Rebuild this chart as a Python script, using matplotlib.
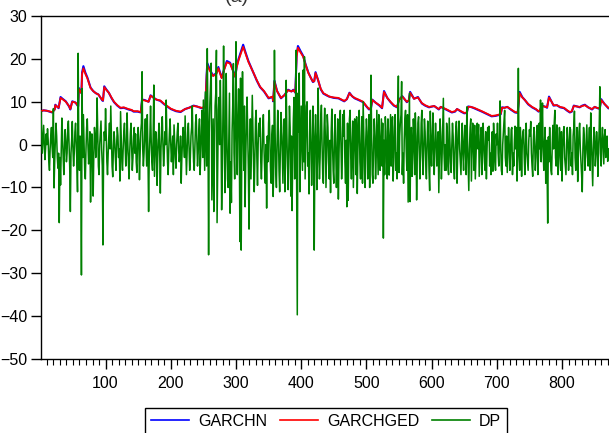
import matplotlib
matplotlib.use("Agg")
import matplotlib.pyplot as plt
from matplotlib.ticker import MultipleLocator

# ---------------- data ----------------
dp_b01 = [7.7,3.0,-2.0,1.0,4.5,0.5,-3.5,-1.0,2.5,0.0, 3.7,1.0,-4.0,-6.0,-1.0,2.0,4.0,-0.5,-3.0,8.4,
          -10.1,-4.0,1.0,5.0,2.0,-3.0,-5.5,-2.0,-18.2,-3.0, -9.4,-1.0,6.2,2.0,-3.0,-7.0,-1.0,3.5,1.0,-4.0,
          -2.0,4.0,5.5,0.0,-5.0,-15.6,-2.0,1.0,5.4,-1.0]
dp_b02 = [-5.0,-2.0,3.0,5.0,0.5,-4.0,-11.0,21.3,-2.0,-6.0, 2.0,-1.0,-30.4,13.1,-3.0,7.0,1.0,-6.0,-8.0,-1.0,
          4.0,6.0,0.0,-4.5,-2.0,3.0,-13.4,-3.0,2.5,-4.0, -12.0,-2.0,4.0,2.0,-3.0,1.0,10.9,3.0,-5.0,-7.0,
          0.0,3.0,5.5,-1.0,-5.0,-23.4,-2.0,3.0,1.0,8.4]
dp_b03 = [2.0,-4.0,-7.0,-2.0,2.0,5.0,-1.0,9.0,2.0,-5.0, -7.5,-1.0,3.0,1.0,-3.0,-6.0,0.0,4.0,2.0,-3.0,
          -1.0,-8.5,7.7,2.0,-4.0,-6.0,-1.0,3.0,5.0,0.0, -5.0,-2.0,7.4,1.0,-4.0,-8.0,-2.0,2.5,5.0,-1.0,
          -6.0,-3.0,2.0,4.0,-2.0,2.5,-4.0,-6.5,0.0,4.0]
dp_b04 = [1.0,-8.2,-2.0,3.0,5.0,17.0,-1.0,-5.0,-2.0,3.0, 6.0,0.0,-5.0,7.0,-2.0,-15.6,-3.0,2.0,9.0,1.0,
          -4.0,-6.0,2.0,13.9,-7.4,-2.0,3.0,1.0,-9.5,-3.0, 2.0,5.0,-2.0,-11.3,-1.0,4.0,6.5,0.0,-5.0,-2.0,
          3.0,0.0,10.4,2.0,-4.0,-7.0,-1.0,3.0,6.0,0.0]
dp_b05 = [-4.0,-1.0,2.0,-7.0,4.6,1.0,-3.0,-5.5,0.0,3.0, 5.0,-1.0,-4.0,-2.0,2.0,-9.0,-3.0,1.0,4.0,0.0,
          -3.0,6.7,0.0,-7.0,-2.0,3.0,5.0,-1.0,-6.0,-3.0, 2.0,4.0,9.0,1.0,-4.0,-6.0,0.0,5.0,7.0,1.0,
          -5.0,-2.0,3.0,6.0,-7.0,-2.0,4.0,8.0,-3.0,10.4]
dp_b06 = [2.0,-6.0,12.3,4.0,-5.0,22.4,5.0,-25.7,3.0,10.0, 14.0,19.0,-12.9,-3.0,6.0,-15.6,-2.0,9.0,12.0,22.0,
          -18.2,-4.0,8.0,11.0,0.0,15.0,5.0,-15.2,-6.0,7.0, 23.0,4.0,-11.2,-2.0,16.6,3.0,-8.0,-10.0,2.0,12.0,
          -16.0,-4.0,-13.5,3.0,9.0,18.9,-2.0,-8.0,5.0,24.0]
dp_b07 = [2.0,-7.0,6.0,13.0,3.0,-22.6,15.5,-24.6,1.0,17.0, 4.0,-6.0,9.0,-14.5,-3.0,5.0,11.1,2.0,-6.0,-19.7,
          -2.0,6.0,-8.0,1.0,11.5,3.0,-5.0,-11.0,-2.0,6.0, 8.0,-3.0,-9.5,0.0,5.0,2.0,6.2,-4.0,-8.0,-2.0,
          4.0,7.0,-1.0,-6.0,-9.0,0.0,-14.8,2.0,-4.0,5.0]
dp_b08 = [8.0,1.0,-6.0,-9.0,2.0,4.5,-12.1,-5.0,22.0,3.0, -6.0,-10.0,0.0,8.0,3.0,-6.0,-11.0,-2.0,7.5,4.0,
          -3.0,-9.0,2.0,6.0,-11.0,-2.0,15.0,3.0,-5.0,-10.5, 0.0,9.0,4.0,-12.0,2.0,-15.4,-3.0,6.0,11.0,-8.0,
          1.0,22.0,-8.0,-39.7,12.0,3.0,16.7,-11.0,-2.0,9.0]
dp_b09 = [2.0,-6.0,17.4,-4.0,20.5,-8.0,0.0,9.0,10.0,-5.0, -2.0,-11.5,3.0,8.0,0.0,-9.5,-3.0,9.0,2.0,-24.6,
          -1.0,7.0,2.0,-10.5,-4.0,13.2,1.0,-8.0,-3.0,6.0, 9.2,0.0,-7.0,-9.0,3.0,8.5,2.0,-10.0,-2.0,7.0,
          4.0,-4.0,-8.0,1.0,-11.2,3.0,8.3,0.0,-6.0,-9.0]
dp_b10 = [2.0,7.0,-1.0,-10.0,-3.0,6.0,-12.7,-2.0,5.0,8.0, 0.0,-8.0,-3.0,7.0,2.0,8.0,-4.0,-9.0,1.0,-14.5,
          5.0,-13.0,-1.0,6.0,8.0,-3.0,-8.0,0.0,5.5,-10.0, -2.0,6.0,3.0,-7.0,6.5,-11.4,-1.0,5.0,8.0,-4.0,
          -8.0,0.0,6.5,-9.0,10.0,2.0,-5.0,-10.0,1.0,6.0]
dp_b11 = [3.0,-8.0,-2.0,7.0,-10.0,1.0,16.2,2.0,-7.0,-9.0, 0.0,6.0,2.0,-8.0,-3.0,8.0,1.0,-7.0,7.0,1.8,
          -6.0,0.0,6.0,-5.0,5.0,-21.8,1.0,-7.0,6.5,3.0, -4.0,-8.0,6.0,2.0,-7.1,0.0,7.0,-5.0,2.0,6.5,
          -8.5,-3.0,4.0,7.0,-6.0,-2.0,-8.0,6.0,16.0,-6.5]
dp_b12 = [2.0,5.0,7.0,14.7,-7.0,-2.0,-9.0,1.0,6.0,8.0, -1.0,-6.0,7.0,-13.4,0.0,12.0,-13.3,1.0,4.0,-7.4,
          -2.0,6.0,2.0,-7.0,7.4,2.0,-12.9,-3.0,5.0,6.5, -1.0,-8.0,-3.0,5.0,8.0,-2.0,-7.0,0.0,6.0,3.0,
          -4.0,-8.0,0.0,5.5,2.0,-6.0,-10.7,7.8,-1.0,-5.0]
dp_b13 = [2.0,7.4,-2.0,-7.0,0.0,5.0,1.0,-5.0,-3.0,3.0, -11.2,-2.0,6.0,2.0,-8.0,-3.0,4.0,10.8,-2.0,-6.0,
          0.0,-6.0,5.0,3.0,-5.0,-7.0,6.2,1.0,-4.0,-6.5, 0.0,5.0,2.0,-5.5,-8.0,-1.0,3.0,5.4,-9.0,-2.0,
          3.0,5.5,-1.0,-4.0,-7.0,0.0,5.0,-2.0,-6.0,1.0]
dp_b14 = [4.5,-2.0,-7.0,8.8,1.0,-5.0,-10.7,-1.0,4.0,6.0, -8.5,-2.0,5.0,1.0,-6.0,4.5,-8.0,-3.0,2.0,5.0,
          -1.0,4.7,-7.4,-3.0,2.0,4.0,-7.0,-2.0,5.0,1.0, -4.0,-6.0,3.0,-8.0,-1.0,4.0,1.0,4.3,-5.0,-2.0,
          -7.0,0.0,3.0,-6.2,5.0,1.0,-4.0,-6.0,2.5,0.0]
dp_b15 = [5.0,-2.0,-5.0,1.0,10.2,-1.0,-6.0,-7.0,0.0,3.0, 5.5,8.0,-3.0,-5.0,2.0,-6.5,-1.0,4.0,0.0,-6.0,
          -2.0,3.5,4.0,-7.0,-2.0,-5.0,1.0,4.3,-1.0,4.0, -8.5,-1.0,17.8,-2.0,-6.0,4.0,1.0,-7.4,0.0,3.0,
          3.5,-3.0,-7.0,0.0,5.0,-2.0,-4.0,-6.0,1.0,3.5]
dp_b16 = [2.0,5.4,-2.0,-5.0,-7.4,1.0,4.0,0.0,-6.0,-3.0, 3.0,4.5,-7.0,-2.0,5.0,-1.0,10.4,-4.0,2.0,9.7,
          -1.0,-6.0,0.0,4.0,-9.0,1.0,-5.0,-18.3,1.8,-4.0, 4.0,-2.0,-6.0,-7.0,0.0,4.5,-1.0,5.0,8.0,-3.0,
          -5.0,4.6,2.0,-7.0,-3.0,4.0,0.0,-6.0,3.0,-8.5]
dp_b17 = [-1.0,3.0,4.2,-3.0,-5.0,-7.0,0.0,4.0,1.0,-6.0, -2.0,4.0,3.5,-5.0,-2.0,-7.0,2.0,4.0,7.8,-3.0,
          -6.0,0.0,4.0,-8.6,-2.0,3.0,5.0,-1.0,-4.0,-7.0, -11.0,-1.0,4.0,2.0,-6.0,-3.0,1.0,4.6,-2.0,-5.0,
          0.0,4.0,-6.0,7.4,1.0,-4.0,-9.6,-1.0,4.0,2.0]
dp_b18 = [-5.0,-2.0,3.0,0.0,-7.4,-1.0,4.0,13.5,-2.0,-5.0,1.0,4.0,0.0,-4.5,2.0,3.5,-3.0,-1.0,2.0,-3.9,-1.0]

dp = (dp_b01 + dp_b02 + dp_b03 + dp_b04 + dp_b05 + dp_b06 + dp_b07 + dp_b08 + dp_b09
      + dp_b10 + dp_b11 + dp_b12 + dp_b13 + dp_b14 + dp_b15 + dp_b16 + dp_b17 + dp_b18)
dp_obs = list(range(1, len(dp) + 1))

vol_obs = [1,5,10,18,22,23,26,28,31,34,39,44,46,48,49,54,57,58,59,62,63,64,66,69,72,77,81,85,89,95,96,98,
           101,105,109,113,118,123,128,135,140,143,149,154,156,160,166,169,174,178,184,190,200,208,215,
           222,228,235,240,247,253,255,256,260,262,265,270,273,278,282,286,291,296,299,301,304,308,311,
           314,319,323,327,332,337,343,350,356,357,359,363,369,374,380,385,388,391,393,395,399,403,407,
           411,415,418,420,422,426,430,434,440,443,450,457,466,470,474,478,482,488,495,500,504,507,509,
           514,520,524,527,532,537,542,547,550,555,558,562,565,567,573,579,585,590,596,604,611,614,622,
           631,636,639,645,650,654,656,660,665,671,677,685,692,698,703,706,708,712,716,722,728,732,735,
           739,743,748,754,760,764,766,769,775,777,780,784,787,792,797,803,808,812,815,818,823,827,831,
           835,840,846,850,853,856,858,860,865,871]
garchged = [7.8,8.0,7.9,7.6,8.2,9.2,8.8,8.6,10.9,10.6,10.0,9.0,8.3,9.5,10.0,9.8,9.2,9.0,13.0,12.2,12.0,16.5,
            17.8,16.5,15.5,13.2,12.5,12.0,11.7,10.4,10.3,13.4,12.8,12.1,11.0,10.0,9.2,8.6,8.7,8.3,8.1,7.8,
            7.8,7.6,10.4,10.3,10.0,11.4,10.9,10.5,10.3,9.5,8.4,7.9,7.7,8.3,8.6,9.0,8.9,8.6,8.8,16.0,18.5,
            17.2,16.7,16.0,16.5,17.8,15.5,17.5,19.2,18.9,17.0,15.8,18.0,19.7,21.5,22.8,21.5,19.3,18.0,16.7,
            15.0,13.5,12.5,10.9,11.2,10.2,14.7,12.5,10.9,11.5,12.7,12.4,12.7,12.2,20.5,22.6,21.5,20.5,18.5,
            16.7,15.5,14.7,14.8,16.7,15.0,13.0,12.0,11.5,11.2,11.0,10.9,10.2,10.6,12.0,11.3,10.9,10.5,10.0,
            9.0,8.3,8.6,10.4,9.8,9.2,8.6,12.3,10.9,10.0,9.2,8.8,10.4,11.2,10.7,10.0,10.3,12.1,10.7,11.0,9.7,
            9.2,8.8,9.0,8.3,8.8,8.3,7.6,7.8,8.3,7.8,7.4,7.5,8.8,8.8,8.6,8.2,7.8,7.2,6.7,6.8,7.0,7.2,8.6,8.6,
            8.8,8.2,7.6,7.5,12.0,11.0,10.4,9.5,8.8,8.3,7.8,8.0,9.0,8.8,8.7,11.0,10.0,9.2,9.2,8.8,8.6,8.0,7.6,
            7.8,9.0,8.9,8.8,9.0,9.2,8.7,8.3,8.8,8.6,8.5,8.6,10.4,9.5,8.6]
garchn = [7.8,8.0,7.9,7.5,8.2,9.3,8.8,8.5,11.1,10.7,10.1,8.9,8.2,9.6,10.1,9.8,9.1,8.9,13.2,12.3,12.0,16.8,
          18.3,16.8,15.7,13.3,12.5,12.0,11.7,10.3,10.2,13.6,12.9,12.1,10.9,9.9,9.1,8.5,8.6,8.2,8.0,7.7,
          7.7,7.5,10.5,10.4,10.0,11.5,10.9,10.5,10.2,9.4,8.3,7.8,7.6,8.3,8.6,9.1,8.9,8.5,8.7,16.3,19.0,
          17.5,16.9,16.1,16.7,18.1,15.6,17.7,19.5,19.1,17.1,15.8,18.2,20.0,21.9,23.3,21.8,19.5,18.1,16.7,
          14.9,13.4,12.4,10.8,11.1,10.1,14.9,12.5,10.8,11.5,12.8,12.4,12.8,12.1,20.8,23.0,21.8,20.7,18.6,
          16.8,15.5,14.6,14.8,16.9,15.0,12.9,11.9,11.4,11.2,10.9,10.8,10.1,10.6,12.1,11.3,10.8,10.4,9.9,
          8.9,8.2,8.5,10.5,9.8,9.1,8.5,12.5,10.9,9.9,9.1,8.7,10.5,11.3,10.7,9.9,10.3,12.3,10.7,11.1,9.6,
          9.1,8.7,9.0,8.2,8.8,8.2,7.5,7.7,8.3,7.7,7.3,7.4,8.9,8.8,8.5,8.1,7.7,7.1,6.6,6.7,6.9,7.1,8.7,8.6,
          8.8,8.1,7.5,7.4,12.3,11.1,10.4,9.4,8.7,8.2,7.7,7.9,9.1,8.8,8.6,11.2,10.0,9.1,9.2,8.7,8.5,7.9,7.5,
          7.7,9.1,8.9,8.7,9.1,9.3,8.7,8.2,8.8,8.6,8.4,8.5,10.6,9.5,8.5]

x_ticks = [100, 200, 300, 400, 500, 600, 700, 800]
y_ticks = [-50, -40, -30, -20, -10, 0, 10, 20, 30]
series_names = ["GARCHN", "GARCHGED", "DP"]

# ---------------- plot ----------------
plt.rcParams['font.family'] = ['Liberation Sans', 'DejaVu Sans']
fig = plt.figure(figsize=(6.09, 4.33), dpi=100)
ax = fig.add_axes([41/609, 1 - 359/433, 1 - 41/609, (359 - 16)/433])

l1, = ax.plot(vol_obs, garchn, color='#0000FF', lw=1.5, zorder=2, label=series_names[0])
l2, = ax.plot(vol_obs, garchged, color='#FF0000', lw=1.3, zorder=3, label=series_names[1])
l3, = ax.plot(dp_obs, dp, color='#008000', lw=1.1, zorder=4, label=series_names[2])

ax.set_xlim(1, 872)
ax.set_ylim(-50, 30)
ax.set_xticks(x_ticks)
ax.set_yticks(y_ticks)
ax.xaxis.set_minor_locator(MultipleLocator(10))
ax.tick_params(axis='both', which='major', direction='out', width=1,
               labelsize=11.5, colors='black')
ax.tick_params(axis='y', which='major', length=7, pad=3)
ax.tick_params(axis='y', which='minor', left=False)
ax.tick_params(axis='x', which='major', length=7, pad=5)
ax.tick_params(axis='x', which='minor', direction='out', length=4, width=0.8)
for s in ['left', 'top', 'bottom']:
    ax.spines[s].set_linewidth(1.0)
    ax.spines[s].set_color('black')
ax.spines['right'].set_visible(False)

leg = fig.legend(handles=[l1, l2, l3], loc='upper center', bbox_to_anchor=(326/609, 1 - 408/433),
                 ncol=3, frameon=True, fancybox=False, edgecolor='black', framealpha=1,
                 fontsize=11.5, handlelength=2.4, handletextpad=0.55, columnspacing=0.8,
                 borderpad=0.35, borderaxespad=0)
leg.get_frame().set_linewidth(1.0)
for h in leg.get_lines():
    h.set_linewidth(1.2)

fig.text(237/609, 1 - 1.5/433, "(a)", fontsize=14, ha='center', va='baseline', color='#333333')

fig.savefig("out.png", dpi=100)
